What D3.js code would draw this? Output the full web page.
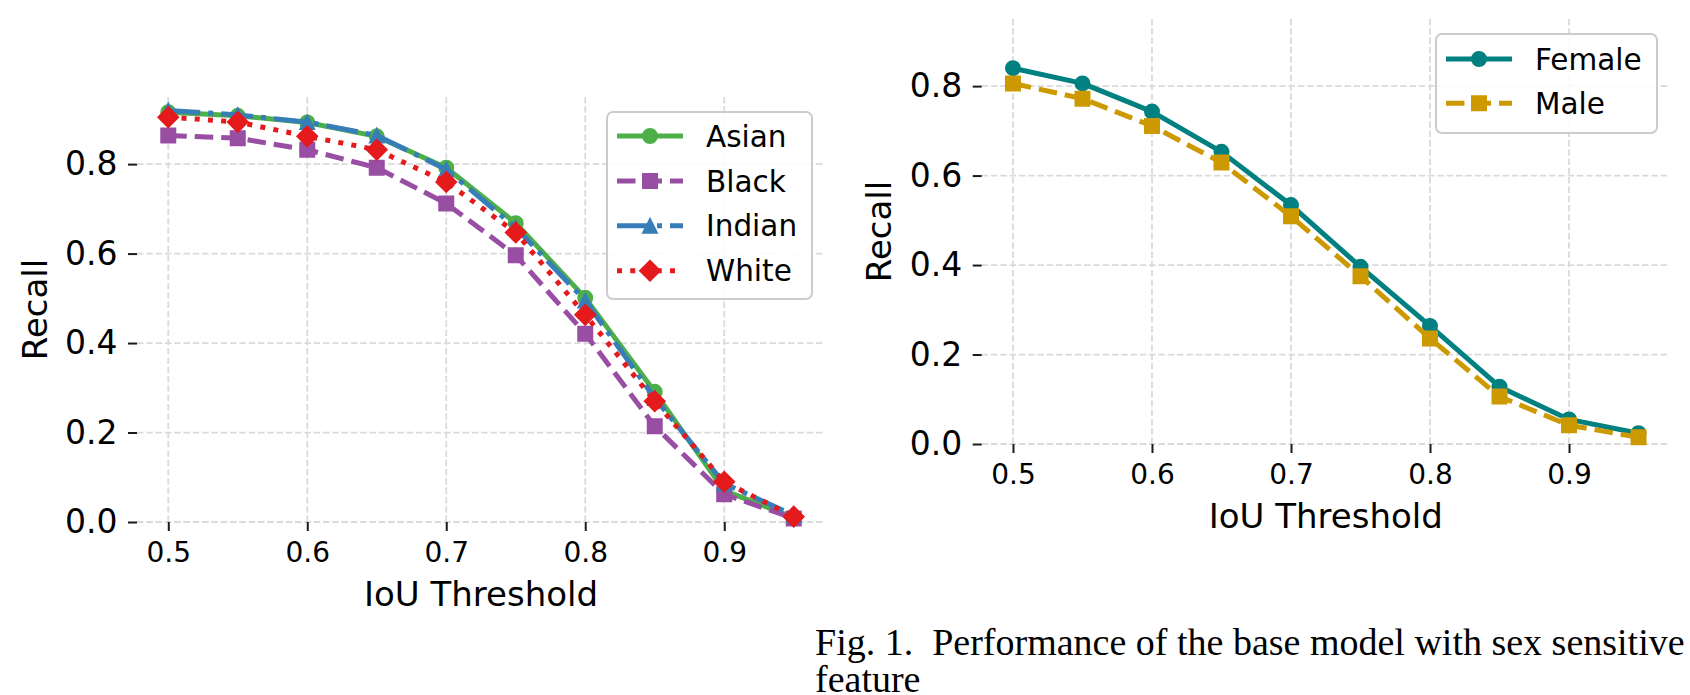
<!DOCTYPE html>
<html>
<head>
<meta charset="utf-8">
<script src="https://cdn.jsdelivr.net/npm/d3@7"></script>
<style>
	body { margin: 0; background: #fff; }
	svg { display: block; }
	.tick text { font-family: "DejaVu Sans", sans-serif; fill: #000; }
	.axis-label { font-family: "DejaVu Sans", sans-serif; fill: #000; }
	.legend text { font-family: "DejaVu Sans", sans-serif; fill: #000; }
	.caption { font-family: "Liberation Serif", "Times New Roman", serif; fill: #000; white-space: pre; }
</style>
</head>
<body>
<div class="visualisation"></div>
<script>
//----------------------------------------------------------------------------------------------------------------------------
//DATA
//----------------------------------------------------------------------------------------------------------------------------
var thresholds = [0.5, 0.55, 0.6, 0.65, 0.7, 0.75, 0.8, 0.85, 0.9, 0.95];

var asian  = [0.916, 0.908, 0.893, 0.862, 0.792, 0.668, 0.501, 0.291, 0.070, 0.010];
var black  = [0.864, 0.858, 0.832, 0.792, 0.712, 0.596, 0.421, 0.214, 0.062, 0.008];
var indian = [0.920, 0.910, 0.894, 0.864, 0.788, 0.658, 0.495, 0.277, 0.086, 0.015];
var white  = [0.905, 0.894, 0.862, 0.832, 0.760, 0.647, 0.463, 0.270, 0.090, 0.012];

var female = [0.840, 0.806, 0.743, 0.653, 0.534, 0.396, 0.264, 0.128, 0.055, 0.024];
var male   = [0.806, 0.772, 0.711, 0.629, 0.509, 0.375, 0.236, 0.106, 0.042, 0.015];

var xTicks = [0.5, 0.6, 0.7, 0.8, 0.9];
var yTicks = [0.0, 0.2, 0.4, 0.6, 0.8];

var xLabel = "IoU Threshold";
var yLabel = "Recall";
var captionLines = ["Fig. 1.  Performance of the base model with sex sensitive", "feature"];

//----------------------------------------------------------------------------------------------------------------------------
//STYLE
//----------------------------------------------------------------------------------------------------------------------------
var LW = 5;
var dashes = {
	solid: null,
	dashed: [3.7 * LW, 1.6 * LW].join(","),
	dashdot: [6.4 * LW, 1.6 * LW, 1 * LW, 1.6 * LW].join(","),
	dotted: [1 * LW, 1.65 * LW].join(",")
};

var raceSeries = [
	{name: "Asian",  values: asian,  color: "#4daf4a", dash: "solid",   marker: "circle"},
	{name: "Black",  values: black,  color: "#984ea3", dash: "dashed",  marker: "square"},
	{name: "Indian", values: indian, color: "#377eb8", dash: "dashdot", marker: "triangle"},
	{name: "White",  values: white,  color: "#e41a1c", dash: "dotted",  marker: "diamond"}
];

var sexSeries = [
	{name: "Female", values: female, color: "#008080", dash: "solid",  marker: "circle"},
	{name: "Male",   values: male,   color: "#cc9a00", dash: "dashed", marker: "square"}
];

//GENERIC INTIALITATION
var svg = d3.select(".visualisation").append("svg")
	.attr("width", 1690)
	.attr("height", 695);

svg.append("rect").attr("width", 1690).attr("height", 695).attr("fill", "#fff");

//----------------------------------------------------------------------------------------------------------------------------
//MARKERS
//----------------------------------------------------------------------------------------------------------------------------
function markerPath(type){
	var s = 14.5;
	if(type == "circle")
		return d3.symbol().type(d3.symbolCircle).size(Math.PI * (s / 2) * (s / 2))();
	if(type == "square")
		return d3.symbol().type(d3.symbolSquare).size(s * s)();
	if(type == "diamond")
		return d3.symbol().type(d3.symbolSquare).size(s * s)();
	// matplotlib style triangle, width = height = s
	return "M0," + (-s / 2) + "L" + (-s / 2) + "," + (s / 2) + "L" + (s / 2) + "," + (s / 2) + "Z";
}

function drawMarker(g, type, color, x, y){
	g.append("path")
		.attr("d", markerPath(type))
		.attr("transform", "translate(" + x + "," + y + ")" + (type == "diamond" ? " rotate(45)" : ""))
		.attr("fill", color)
		.attr("stroke", color)
		.attr("stroke-width", 1.5);
}

//----------------------------------------------------------------------------------------------------------------------------
//PANEL
//----------------------------------------------------------------------------------------------------------------------------
function drawPanel(dim, series, legendBox){
	var x = d3.scaleLinear().domain([0.4775, 0.9725]).range([dim.left, dim.right]);
	var y = d3.scaleLinear().domain([0, 0.95]).range([dim.bottom, dim.top]);

	var g = svg.append("g");

	//grid
	g.append("g").selectAll("line").data(xTicks).enter().append("line")
		.attr("x1", d => x(d)).attr("x2", d => x(d))
		.attr("y1", dim.top).attr("y2", dim.bottom)
		.attr("stroke", "#dadada").attr("stroke-width", 1.8).attr("stroke-dasharray", "6.5,2.8");
	g.append("g").selectAll("line").data(yTicks).enter().append("line")
		.attr("x1", dim.left).attr("x2", dim.right)
		.attr("y1", d => y(d)).attr("y2", d => y(d))
		.attr("stroke", "#dadada").attr("stroke-width", 1.8).attr("stroke-dasharray", "6.5,2.8");

	//axes
	var xAxis = g.append("g")
		.attr("class", "x-axis")
		.attr("transform", "translate(0," + dim.bottom + ")")
		.call(d3.axisBottom(x).tickValues(xTicks).tickFormat(d3.format(".1f")).tickSize(9).tickPadding(11));
	xAxis.selectAll("text").style("font-size", "28px");

	var yAxis = g.append("g")
		.attr("class", "y-axis")
		.attr("transform", "translate(" + dim.left + ",0)")
		.call(d3.axisLeft(y).tickValues(yTicks).tickFormat(d3.format(".1f")).tickSize(9).tickPadding(10.5));
	yAxis.selectAll("text").style("font-size", "33px");

	g.selectAll(".domain").remove();
	g.selectAll(".tick line").attr("stroke", "#1a1a1a").attr("stroke-width", 2);

	//labels
	g.append("text")
		.attr("class", "axis-label")
		.attr("x", (dim.left + dim.right) / 2)
		.attr("y", dim.bottom + 84)
		.attr("text-anchor", "middle")
		.style("font-size", "34px")
		.text(xLabel);

	g.append("text")
		.attr("class", "axis-label")
		.attr("transform", "translate(" + (dim.left - 90.5) + "," + ((dim.top + dim.bottom) / 2) + ") rotate(-90)")
		.attr("text-anchor", "middle")
		.style("font-size", "34px")
		.text(yLabel);

	//series
	var line = d3.line()
		.x((d, i) => x(thresholds[i]))
		.y(d => y(d));

	series.forEach(function(s){
		g.append("path")
			.datum(s.values)
			.attr("d", line)
			.attr("fill", "none")
			.attr("stroke", s.color)
			.attr("stroke-width", LW)
			.attr("stroke-linejoin", "round")
			.attr("stroke-dasharray", dashes[s.dash]);
		var mg = g.append("g");
		s.values.forEach(function(v, i){
			drawMarker(mg, s.marker, s.color, x(thresholds[i]), y(v));
		});
	});

	//legend
	var lg = g.append("g").attr("class", "legend");
	lg.append("rect")
		.attr("x", legendBox.x).attr("y", legendBox.y)
		.attr("width", legendBox.w).attr("height", legendBox.h)
		.attr("rx", 6).attr("ry", 6)
		.attr("fill", "#fff").attr("fill-opacity", 0.85)
		.attr("stroke", "#cccccc").attr("stroke-width", 2);

	series.forEach(function(s, i){
		var cy = legendBox.y + legendBox.first + i * legendBox.step;
		var x0 = legendBox.x + 10, x1 = legendBox.x + 76;
		lg.append("line")
			.attr("x1", x0).attr("x2", x1)
			.attr("y1", cy).attr("y2", cy)
			.attr("stroke", s.color)
			.attr("stroke-width", LW)
			.attr("stroke-dasharray", dashes[s.dash]);
		drawMarker(lg, s.marker, s.color, (x0 + x1) / 2, cy);
		lg.append("text")
			.attr("x", legendBox.x + 99)
			.attr("y", cy)
			.attr("dy", "0.36em")
			.style("font-size", "29.5px")
			.text(s.name);
	});
}

drawPanel({left: 137, right: 825, top: 97, bottom: 522}, raceSeries,
	{x: 607, y: 112, w: 205, h: 187, first: 24, step: 44.9});

drawPanel({left: 981.7, right: 1669.8, top: 19, bottom: 444}, sexSeries,
	{x: 1436, y: 34, w: 221, h: 99, first: 25, step: 44.3});

//----------------------------------------------------------------------------------------------------------------------------
//CAPTION
//----------------------------------------------------------------------------------------------------------------------------
svg.selectAll(".caption").data(captionLines).enter().append("text")
	.attr("class", "caption")
	.attr("x", 815)
	.attr("y", (d, i) => 655 + i * 37)
	.style("font-size", "38px")
	.text(d => d);
</script>
</body>
</html>
